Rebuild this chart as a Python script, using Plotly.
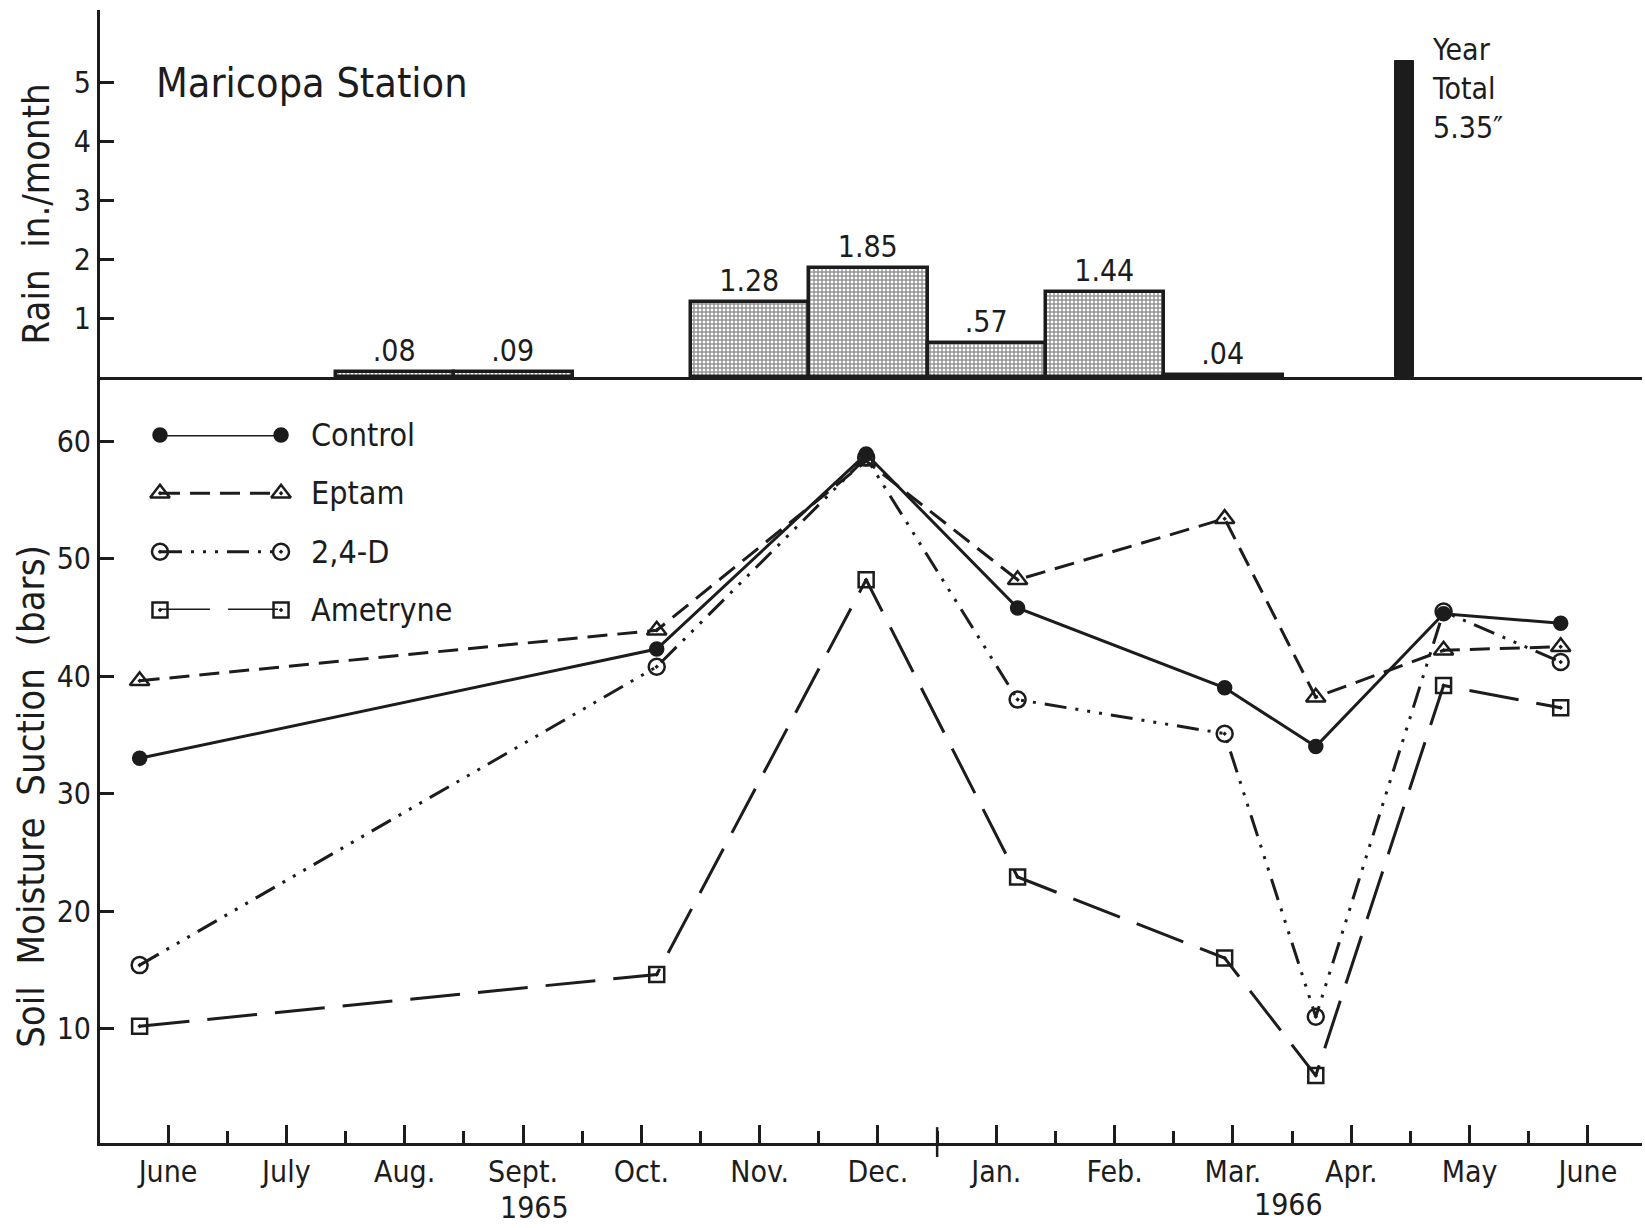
import plotly.graph_objects as go

# ---------------- data ----------------
month_labels = ["June", "July", "Aug.", "Sept.", "Oct.", "Nov.", "Dec.",
                "Jan.", "Feb.", "Mar.", "Apr.", "May", "June"]
month_ticks = list(range(13))            # 0 = June 1965 ... 12 = June 1966
half_ticks = [m + 0.5 for m in range(12)]

# monthly rain (inches) in the top panel
rain_months = [2, 3, 5, 6, 7, 8, 9]      # Aug., Sept., Nov., Dec., Jan., Feb., Mar.
rain_values = [0.08, 0.09, 1.28, 1.85, 0.57, 1.44, 0.04]
rain_labels = [".08", ".09", "1.28", "1.85", ".57", "1.44", ".04"]
year_total_x = [10.45]
year_total = [5.35]

# soil moisture suction (bars), sampling dates expressed in months from June 1965
sample_x = [-0.24, 4.13, 5.90, 7.18, 8.93, 9.70, 10.78, 11.77]
control = [33.0, 42.3, 58.9, 45.8, 39.0, 34.0, 45.3, 44.5]
eptam = [39.6, 43.9, 58.3, 48.2, 53.4, 38.2, 42.2, 42.5]
d24 = [15.4, 40.8, 58.6, 38.0, 35.1, 11.0, 45.5, 41.2]
ametryne = [10.2, 14.6, 48.2, 22.9, 16.0, 6.0, 39.2, 37.3]

series_names = ["Control", "Eptam", "2,4-D", "Ametryne"]
legend_key_x = [0, 1]

# ---------------- styles ----------------
INK = "#1c1c1c"
FONT = "Liberation Sans Narrow, Arial Narrow, DejaVu Sans Condensed, sans-serif"
styles = [
    dict(symbol="circle", size=13, dash="solid"),
    dict(symbol="triangle-up-open-dot", size=17, dash="20px,10px"),
    dict(symbol="circle-open-dot", size=16, dash="22px,9px,3px,9px,3px,9px,3px,9px"),
    dict(symbol="square-open-dot", size=15, dash="50px,18px"),
]
series_values = [control, eptam, d24, ametryne]

fig = go.Figure()

# rain bars
fig.add_trace(go.Bar(
    x=rain_months, y=rain_values, xaxis="x2", yaxis="y2",
    width=1.0, offset=-0.58,
    marker=dict(color="white", line=dict(color=INK, width=3.5),
                pattern=dict(shape="+", size=4, solidity=0.6, fgcolor="#2a2a2a", bgcolor="white")),
    text=rain_labels, textposition="outside", cliponaxis=False,
    textfont=dict(family=FONT, size=30, color=INK),
    showlegend=False, hoverinfo="skip",
))
fig.add_trace(go.Bar(
    x=year_total_x, y=year_total, xaxis="x2", yaxis="y2",
    width=0.16, marker=dict(color=INK, line=dict(color=INK, width=1)),
    showlegend=False, hoverinfo="skip",
))

# soil moisture lines
for name, vals, st in zip(series_names, series_values, styles):
    fig.add_trace(go.Scatter(
        x=sample_x, y=vals, mode="lines+markers", name=name,
        line=dict(color=INK, width=3, dash=st["dash"]),
        marker=dict(symbol=st["symbol"], size=st["size"], color=INK,
                    line=dict(color=INK, width=2.5)),
        showlegend=False,
    ))

# hand-drawn style legend keys
for i, (name, st) in enumerate(zip(series_names, styles)):
    fig.add_trace(go.Scatter(
        x=legend_key_x, y=[i, i], xaxis="x3", yaxis="y3", mode="lines+markers",
        line=dict(color=INK, width=3, dash=st["dash"]),
        marker=dict(symbol=st["symbol"], size=st["size"], color=INK,
                    line=dict(color=INK, width=2.5)),
        cliponaxis=False, showlegend=False, hoverinfo="skip",
    ))

annotations = []
for i, name in enumerate(series_names):
    annotations.append(dict(text=name, x=0.1355, xref="paper", y=i, yref="y3",
                            xanchor="left", yanchor="middle", showarrow=False,
                            font=dict(family=FONT, size=32, color=INK)))
annotations += [
    dict(text="Maricopa Station", x=0.035, y=0.9356, xref="paper", yref="paper",
         xanchor="left", yanchor="middle", showarrow=False,
         font=dict(family=FONT, size=41, color=INK)),
    dict(text="Year<br>Total<br>5.35\u2033", x=0.8625, y=0.982, xref="paper", yref="paper",
         xanchor="left", yanchor="top", align="left", showarrow=False,
         font=dict(family=FONT, size=30, color=INK)),
    dict(text="1965", x=0.282, y=-0.0565, xref="paper", yref="paper",
         xanchor="center", yanchor="middle", showarrow=False,
         font=dict(family=FONT, size=30, color=INK)),
    dict(text="1966", x=0.771, y=-0.054, xref="paper", yref="paper",
         xanchor="center", yanchor="middle", showarrow=False,
         font=dict(family=FONT, size=30, color=INK)),
    dict(text="Rain  in./month", x=-0.0418, y=0.82, xref="paper", yref="paper",
         xanchor="center", yanchor="middle", textangle=-90, showarrow=False,
         font=dict(family=FONT, size=38, color=INK)),
    dict(text="Soil  Moisture  Suction  (bars)", x=-0.0444, y=0.306, xref="paper", yref="paper",
         xanchor="center", yanchor="middle", textangle=-90, showarrow=False,
         font=dict(family=FONT, size=38, color=INK)),
]

x_range = [-0.575, 12.457]
axis_common = dict(showgrid=False, zeroline=False, linecolor=INK, tickcolor=INK,
                   tickfont=dict(family=FONT, size=30, color=INK))

fig.update_layout(
    width=1645, height=1228,
    margin=dict(l=100, r=3, t=10, b=85),
    paper_bgcolor="white", plot_bgcolor="white",
    bargap=0,
    font=dict(family=FONT, color=INK),
    xaxis=dict(**axis_common, domain=[0, 1], anchor="y", range=x_range,
               showline=True, linewidth=3, ticks="inside", ticklen=18, tickwidth=2.5,
               tickmode="array", tickvals=month_ticks, ticktext=month_labels,
               minor=dict(ticks="inside", ticklen=12, tickwidth=2.5, tickcolor=INK,
                          tickmode="array", tickvals=half_ticks)),
    yaxis=dict(**axis_common, domain=[0, 0.676], anchor="x", range=[0.26, 65.45],
               showline=True, linewidth=3, ticks="inside", ticklen=14, tickwidth=2.5,
               tickmode="array", tickvals=[10, 20, 30, 40, 50, 60]),
    xaxis2=dict(showgrid=False, zeroline=False, domain=[0, 1], anchor="y2", matches="x",
                showline=True, linewidth=3, linecolor=INK, ticks="", showticklabels=False),
    yaxis2=dict(**axis_common, domain=[0.676, 1], anchor="x2", range=[0, 6.22],
                showline=True, linewidth=3, ticks="inside", ticklen=14, tickwidth=2.5,
                tickmode="array", tickvals=[1, 2, 3, 4, 5]),
    xaxis3=dict(domain=[0.0389, 0.1174], anchor="y3", range=[0, 1], visible=False),
    yaxis3=dict(domain=[0.4704, 0.6249], anchor="x3", range=[3, 0], visible=False),
    annotations=annotations,
    shapes=[dict(type="line", xref="x", yref="paper", x0=6.5, x1=6.5,
                 y0=-0.0124, y1=0.014, line=dict(color=INK, width=2.5))],
)

fig.write_html("out.html")
